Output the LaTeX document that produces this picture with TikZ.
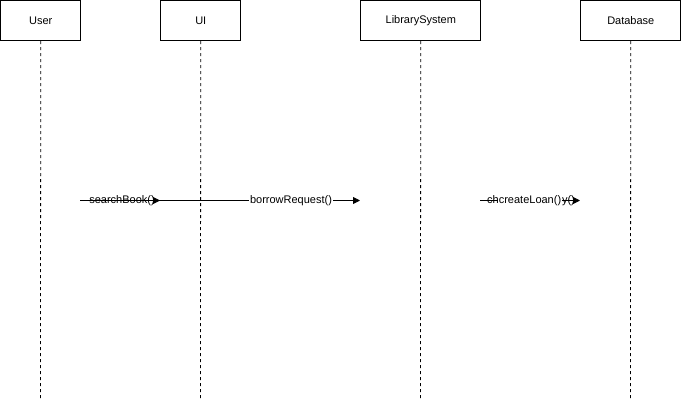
\documentclass[tikz,border=0pt]{standalone}
\usepackage{fontspec}
\setmainfont{Liberation Sans}
\usetikzlibrary{arrows.meta}
\begin{document}
\begin{tikzpicture}[x=1pt,y=-1pt,
  actor/.style={draw,line width=0.8pt,minimum height=40pt,inner sep=0pt,font=\fontsize{11}{13}\selectfont,anchor=north west},
  life/.style={line width=0.8pt,dash pattern=on 3pt off 3pt},
  msg/.style={line width=0.8pt,-{Triangle[length=7pt,width=7pt]}},
  lbl/.style={font=\fontsize{11}{13}\selectfont,inner sep=1pt},
  lblbg/.style={lbl,fill=white}]
\useasboundingbox (0,0) rectangle (681,401);
\node[actor,minimum width=80pt] (user) at (0.4,0.4) {User};
\node[actor,minimum width=80pt] (ui) at (160.4,0.4) {UI};
\node[actor,minimum width=120pt] (lib) at (360.4,0.4) {LibrarySystem};
\node[actor,minimum width=100pt] (db) at (580.4,0.4) {Database};
\coordinate (userend) at (40.4,400);
\coordinate (uiend) at (200.4,400);
\coordinate (libend) at (420.4,400);
\coordinate (dbend) at (630.4,400);
\draw[life] (user.south) -- (userend);
\draw[life] (ui.south) -- (uiend);
\draw[life] (lib.south) -- (libend);
\draw[life] (db.south) -- (dbend);
% messages
\coordinate (m1s) at (80,200.5);
\coordinate (m1e) at (160,200.5);
\coordinate (m2e) at (360,200.5);
\coordinate (m3s) at (480,200.5);
\coordinate (m3e) at (580,200.5);
\draw[msg] (m1s) -- (m1e);
\draw[msg] (m1s) -- (m2e);
\node[lbl] (l1) at (122,200.5) {searchBook()};
\node[lblbg] (l2) at (291,200.5) {borrowRequest()};
\draw[msg] (m3s) -- (m3e);
\node[lbl] (l3) at (531,200.5) {checkAvailability()};
\node[lblbg] (l4) at (530,200.5) {createLoan()};
\end{tikzpicture}
\end{document}
